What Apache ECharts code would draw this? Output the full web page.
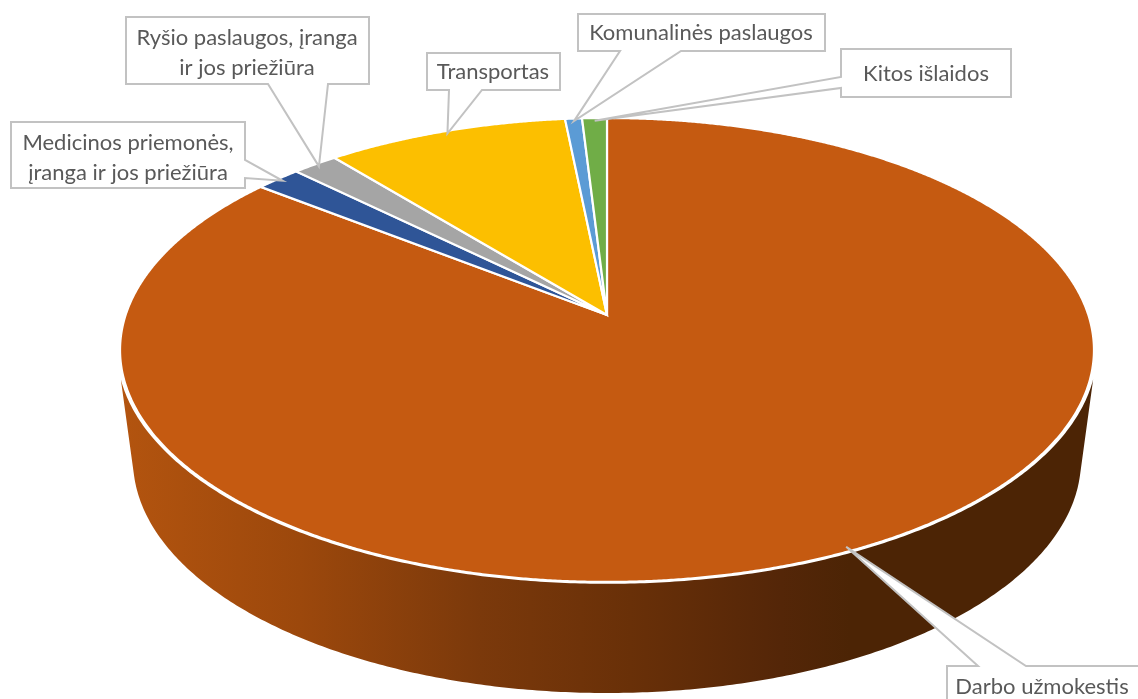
<!DOCTYPE html>
<html>
<head>
<meta charset="utf-8">
<style>html,body{margin:0;padding:0;background:#fff}#c{width:1138px;height:699px}</style>
<script src="https://cdn.jsdelivr.net/npm/echarts@6/dist/echarts.min.js"></script>
</head>
<body>
<div id="c"></div>
<script>
// Data, clockwise from 12 o'clock
const categories = ['Darbo užmokestis', 'Medicinos priemonės,\nįranga ir jos priežiūra', 'Ryšio paslaugos, įranga\nir jos priežiūra', 'Transportas', 'Komunalinės paslaugos', 'Kitos išlaidos'];
const shares = [85.6, 1.75, 1.75, 9.3, 0.65, 0.95];
const colors = ['#C55A11', '#2F5597', '#A5A5A5', '#FCBF00', '#5B9BD5', '#70AD47'];

// Callout boxes [x0,y0,x1,y1], side the pointer leaves from, pointer base, text centre
const callouts = [
  {box:[947,666,1150,730], side:'top', base:[978,1026], text:[1042,687]},
  {box:[11,122,245,188], side:'right', base:[160,178], text:[128,157.5]},
  {box:[126,17,369,84], side:'bottom', base:[268,328], text:[247,52.5]},
  {box:[427,53,560,90], side:'bottom', base:[449,482], text:[493,72]},
  {box:[578,14,825,51], side:'bottom', base:[620,681], text:[701,33]},
  {box:[841,49,1011,97], side:'left', base:[77,88], text:[926,74]}
];

// Projection of the disc
const CX = 607, CY = 315, A = 481.4, B = 226.7, K = 0.1508;
const LOW = {a: 474, b: 233, cy: 460};
const WALL = [105.7, 254.3], LOWR = [93.8, 266.2], WALL_R = 1.006;
const rad = d => d * Math.PI / 180;
function rim(deg, r) {
  r = r === undefined ? 1 : r;
  const u = r * Math.sin(rad(deg)), v = r * Math.cos(rad(deg)), w = 1 + K * v;
  return [CX + A * u / w, CY - B * v / w];
}
function low(deg) {
  const t = LOWR[0] + (deg - WALL[0]) / (WALL[1] - WALL[0]) * (LOWR[1] - LOWR[0]);
  return [CX + LOW.a * Math.sin(rad(t)), LOW.cy - LOW.b * Math.cos(rad(t))];
}
const total = shares.reduce((s, v) => s + v, 0);
const starts = [];
shares.reduce((s, v, i) => { starts[i] = s; return s + v; }, 0);
const angleOf = v => v / total * 360;

const wallFill = {type:'linear', global:true, x:121, y:0, x2:1094, y2:0, colorStops:[
  {offset:0, color:'#B3540F'},
  {offset:0.184, color:'#9C480C'},
  {offset:0.369, color:'#7B390B'},
  {offset:0.524, color:'#693008'},
  {offset:0.678, color:'#542608'},
  {offset:0.75, color:'#4C2405'},
  {offset:1, color:'#4C2405'}
]};

function renderSlice(params, api) {
  const i = params.dataIndex;
  const a0 = angleOf(starts[i]), a1 = a0 + angleOf(api.value(0));
  const children = [];
  const w0 = Math.max(a0, WALL[0]), w1 = Math.min(a1, WALL[1]);
  if (w1 > w0) {
    const pts = [];
    for (let d = w0; d < w1; d += 0.5) pts.push(rim(d, WALL_R));
    pts.push(rim(w1, WALL_R));
    for (let d = w1; d > w0; d -= 0.5) pts.push(low(d));
    pts.push(low(w0));
    children.push({type:'polygon', shape:{points:pts}, style:{fill:wallFill}});
  }
  const top = [[CX, CY]];
  for (let d = a0; d < a1; d += 0.25) top.push(rim(d));
  top.push(rim(a1));
  children.push({type:'polygon', shape:{points:top}, style:{fill:colors[i], stroke:'#fff', lineWidth:2.2, lineJoin:'miter'}});
  return {type:'group', children};
}

function renderCallout(params, api) {
  const i = params.dataIndex, c = callouts[i];
  const mid = angleOf(starts[i]) + angleOf(api.value(0)) / 2;
  const t = rim(mid, 0.985);
  const [x0, y0, x1, y1] = c.box, [b0, b1] = c.base;
  let pts;
  if (c.side === 'top') pts = [[x0,y0],[b0,y0],t,[b1,y0],[x1,y0],[x1,y1],[x0,y1]];
  if (c.side === 'bottom') pts = [[x0,y0],[x1,y0],[x1,y1],[b1,y1],t,[b0,y1],[x0,y1]];
  if (c.side === 'right') pts = [[x0,y0],[x1,y0],[x1,b0],t,[x1,b1],[x1,y1],[x0,y1]];
  if (c.side === 'left') pts = [[x0,y0],[x1,y0],[x1,y1],[x0,y1],[x0,b1],t,[x0,b0]];
  return {type:'group', children:[
    {type:'polygon', shape:{points:pts}, style:{fill:'#fff', stroke:'#C2C2C2', lineWidth:2, lineJoin:'miter'}},
    {type:'text', style:{text:categories[i], x:c.text[0], y:c.text[1], textAlign:'center', textVerticalAlign:'middle',
      fontFamily:'Lato', fontSize:22, lineHeight:30, fill:'#595959'}}
  ]};
}

const chart = echarts.init(document.getElementById('c'), null, {renderer:'canvas'});
chart.setOption({
  backgroundColor:'#fff',
  animation:false,
  series:[
    {type:'custom', coordinateSystem:'none', z:1, silent:true, renderItem:renderSlice, data:shares.map(v => [v])},
    {type:'custom', coordinateSystem:'none', z:2, silent:true, renderItem:renderCallout, data:shares.map(v => [v])}
  ]
});
</script>
</body>
</html>
